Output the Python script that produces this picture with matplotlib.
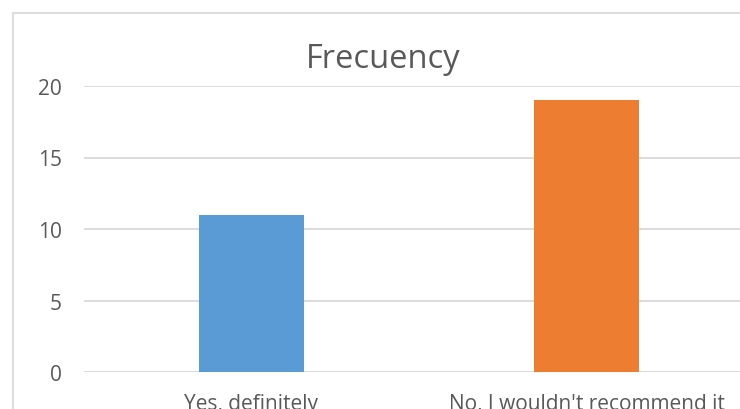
import matplotlib
matplotlib.use("Agg")
import matplotlib.pyplot as plt
from matplotlib.lines import Line2D

categories = ["Yes, definitely", "No, I wouldn't recommend it"]
values = [11, 19]
colors = ["#5B9BD5", "#ED7D31"]
yticks = [0, 5, 10, 15, 20]
title = "Frecuency"

W, H = 740, 410
fig = plt.figure(figsize=(W / 100, H / 100), dpi=100)
fig.patch.set_facecolor("white")

left, right = 84, 754
bottom, top = 373, 87
ax = fig.add_axes([left / W, (H - bottom) / H, (right - left) / W, (bottom - top) / H])
x = list(range(len(categories)))
ax.bar(x, values, width=0.313, color=colors, zorder=3)
ax.set_xlim(-0.5, 1.5)
ax.set_ylim(0, 20)
ax.set_yticks(yticks)
ax.set_yticklabels([str(v) for v in yticks])
ax.yaxis.grid(True, color="#D9D9D9", linewidth=1.3, zorder=0)
for s in ax.spines.values():
    s.set_visible(False)
ax.tick_params(axis="y", length=0, pad=16, labelsize=15, labelcolor="#595959")
ax.tick_params(axis="x", length=0, pad=15, labelsize=15, labelcolor="#595959")
ax.set_xticks(x)
ax.set_xticklabels(categories)
for lab in ax.get_xticklabels() + ax.get_yticklabels():
    lab.set_fontfamily("Open Sans")

fig.text(383 / W, 1 - 59 / H, title, ha="center", va="center", fontsize=23.5,
         color="#595959", family="Open Sans")

# chart border (left and top visible)
fig.add_artist(Line2D([12.5 / W, 12.5 / W], [1 - 13.5 / H, -0.1], transform=fig.transFigure,
                      color="#D9D9D9", linewidth=1.3))
fig.add_artist(Line2D([12.5 / W, 1.1], [1 - 13.5 / H, 1 - 13.5 / H], transform=fig.transFigure,
                      color="#D9D9D9", linewidth=1.3))

fig.savefig("out.png", dpi=100)
